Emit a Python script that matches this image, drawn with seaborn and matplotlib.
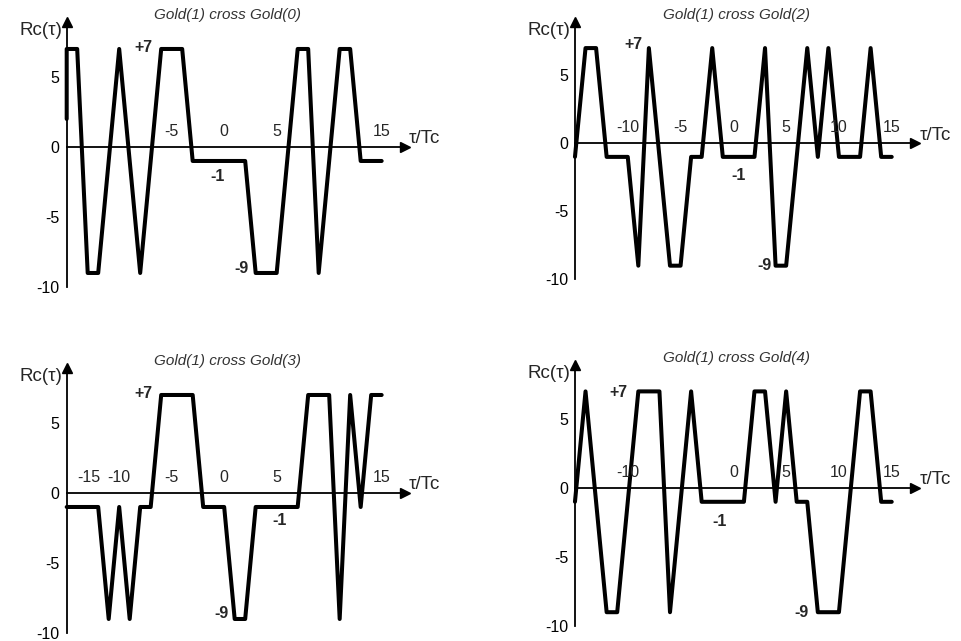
import numpy as np
import pandas as pd
import matplotlib
matplotlib.use('Agg')
import matplotlib.pyplot as plt
import seaborn as sns

sns.set_style('white')
plt.rcParams['font.family'] = ['Liberation Sans', 'DejaVu Sans']
plt.rcParams['axes.unicode_minus'] = False

# Rc(tau) of Gold(1) against Gold(k), one value per chip lag tau/Tc
lags = list(range(-15, 16))
rc_g0 = [7, 7, -9, -9, -1, 7, -1, -9, -1, 7, 7, 7, -1, -1, -1, -1,
         -1, -1, -9, -9, -9, -1, 7, 7, -9, -1, 7, 7, -1, -1, -1]
rc_g2 = [-1, 7, 7, -1, -1, -1, -9, 7, -1, -9, -9, -1, -1, 7, -1, -1,
         -1, -1, 7, -9, -9, -1, 7, -1, 7, -1, -1, -1, 7, -1, -1]
rc_g3 = [-1, -1, -1, -1, -9, -1, -9, -1, -1, 7, 7, 7, 7, -1, -1, -1,
         -9, -9, -1, -1, -1, -1, -1, 7, 7, 7, -9, 7, -1, 7, 7]
rc_g4 = [-1, 7, -1, -9, -9, -1, 7, 7, 7, -9, -1, 7, -1, -1, -1, -1,
         -1, 7, 7, -1, 7, -1, -1, -9, -9, -9, -1, 7, 7, -1, -1]
rc_g0_lead = 2  # Gold(0) trace starts part way up its first edge

titles = ['Gold(1) cross Gold(0)', 'Gold(1) cross Gold(2)',
          'Gold(1) cross Gold(3)', 'Gold(1) cross Gold(4)']
xtick_labels = [[-5, 0, 5, 15], [-10, -5, 0, 5, 10, 15],
                [-15, -10, -5, 0, 5, 15], [-10, 0, 5, 10, 15]]
ytick_labels = [-10, -5, 0, 5]
level_labels = ['+7', '-1', '-9']

# layout (figure fractions) and label spots (data coords)
axes_pos = [[0.0694, 0.5523, 0.3518, 0.4128],
            [0.5983, 0.5643, 0.3538, 0.4010],
            [0.0694, 0.0125, 0.3518, 0.4128],
            [0.5983, 0.0234, 0.3538, 0.4069]]
level_pos = [[(-6.8, 7.1), (-0.6, -2.1), (2.3, -8.7)],
             [(-8.6, 7.3), (0.45, -2.4), (3.6, -9.0)],
             [(-6.8, 7.1), (5.3, -2.0), (0.4, -8.6)],
             [(-10.0, 6.9), (-1.3, -2.4), (7.1, -9.0)]]
level_ha = ['right', 'center', 'right']

series = [rc_g0, rc_g2, rc_g3, rc_g4]

fig = plt.figure(figsize=(9.61, 6.41), dpi=100)
fig.patch.set_facecolor('white')

for i in range(4):
    ax = fig.add_axes(axes_pos[i])
    x = list(lags)
    y = list(series[i])
    if i == 0:
        x = [-15] + x
        y = [rc_g0_lead] + y
    df = pd.DataFrame({'lag': x, 'rc': y})
    sns.lineplot(data=df, x='lag', y='rc', ax=ax, color='black',
                 linewidth=2.9, estimator=None, sort=False)
    for ln in ax.lines:
        ln.set_clip_on(False)

    ax.set_xlim(-15, 17.2)
    ax.set_ylim(-10, 8.9)
    ax.set_xlabel('')
    ax.set_ylabel('')
    ax.patch.set_alpha(0)
    for s in ['top', 'right']:
        ax.spines[s].set_visible(False)
    ax.spines['left'].set_position(('data', -15))
    ax.spines['bottom'].set_position(('data', 0))
    for s in ['left', 'bottom']:
        ax.spines[s].set_linewidth(1.3)
        ax.spines[s].set_color('black')

    # arrow heads on both axes
    ax.plot(1, 0, marker='>', color='black', ms=7,
            transform=ax.get_yaxis_transform(), clip_on=False)
    ax.plot(-15, 1, marker='^', color='black', ms=7,
            transform=ax.get_xaxis_transform(), clip_on=False)

    ax.set_xticks([-10, -5, 0, 5, 10, 15])
    ax.tick_params(axis='x', direction='in', length=3, width=1,
                   labelbottom=False, color='black')
    ax.set_yticks(ytick_labels)
    ax.set_yticklabels([str(v) for v in ytick_labels])
    ax.tick_params(axis='y', direction='inout', length=4, width=1,
                   labelsize=11.5, pad=3, color='black', labelcolor='black')

    for t in xtick_labels[i]:
        if t == -15:
            ax.text(t + 1.0, 0.8, str(t), ha='left', va='baseline', fontsize=11.5)
        else:
            ax.text(t, 0.8, str(t), ha='center', va='baseline', fontsize=11.5)

    for lab, (lx, ly), ha in zip(level_labels, level_pos[i], level_ha):
        ax.text(lx, ly, lab, ha=ha, va='center', fontsize=11.5,
                fontweight='bold')

    ax.text(-15.4, 8.3, 'Rc(τ)', ha='right', va='center', fontsize=13.5)
    ax.text(17.6, 0.6, 'τ/Tc', ha='left', va='center', fontsize=13.5)
    ax.text(0.3, 9.4, titles[i], ha='center', va='center', style='italic',
            fontsize=11, color='#333333')

fig.savefig('out.png', dpi=100)
